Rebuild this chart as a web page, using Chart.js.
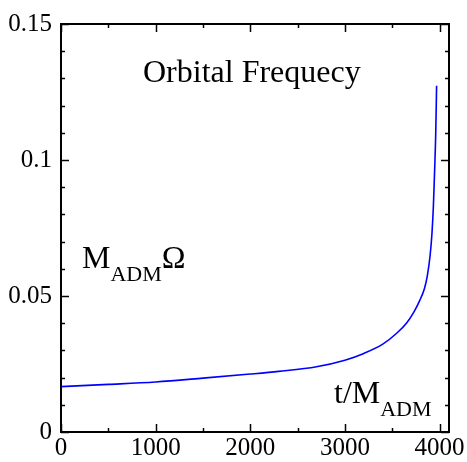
<!DOCTYPE html>
<html>
<head>
<meta charset="utf-8">
<script src="https://cdn.jsdelivr.net/npm/chart.js@4/dist/chart.umd.min.js"></script>
<style>
  html, body { margin: 0; padding: 0; background: #fff; }
  #wrap { width: 467px; height: 462px; }
</style>
</head>
<body>
<div id="wrap"><canvas id="chart" width="467" height="462"></canvas></div>
<script>
// time in units of M_ADM
const times = [0, 500, 1000, 1500, 2000, 2300, 2700, 3000, 3200, 3400, 3550, 3650, 3730, 3790, 3840, 3870, 3900, 3920, 3935, 3948, 3960, 3969];
// orbital frequency M_ADM * Omega
const omega = [0.0167, 0.0175, 0.0184, 0.0198, 0.0213, 0.0223, 0.0240, 0.0264, 0.0289, 0.0323, 0.0364, 0.0400, 0.0442, 0.0483, 0.0527, 0.0572, 0.0648, 0.0730, 0.0830, 0.0960, 0.1100, 0.1273];

const xTicks = [0, 1000, 2000, 3000, 4000];
const yTicks = [0, 0.05, 0.1, 0.15];
const xMinor = [500, 1500, 2500, 3500];
const yMinor = [0.01, 0.02, 0.03, 0.04, 0.06, 0.07, 0.08, 0.09, 0.11, 0.12, 0.13, 0.14];

const serif = "'Liberation Serif', 'Times New Roman', serif";

// inward tick marks on all four sides, frame and text labels
const frameTicks = {
  id: "frameTicks",
  afterDraw(chart) {
    const { ctx, chartArea: a, scales } = chart;
    const xs = scales.x, ys = scales.y;
    ctx.save();
    ctx.strokeStyle = "#000";
    ctx.lineWidth = 1.5;
    const tick = (vals, len, isX) => {
      vals.forEach(v => {
        ctx.beginPath();
        if (isX) {
          const px = Math.round(xs.getPixelForValue(v)) + 0.5;
          ctx.moveTo(px, a.bottom); ctx.lineTo(px, a.bottom - len);
          ctx.moveTo(px, a.top); ctx.lineTo(px, a.top + len);
        } else {
          const py = Math.round(ys.getPixelForValue(v)) + 0.5;
          ctx.moveTo(a.left, py); ctx.lineTo(a.left + len, py);
          ctx.moveTo(a.right, py); ctx.lineTo(a.right - len, py);
        }
        ctx.stroke();
      });
    };
    tick(xTicks, 8, true);
    tick(xMinor, 4, true);
    tick(yTicks, 8, false);
    tick(yMinor, 4, false);

    // frame
    ctx.lineWidth = 2;
    ctx.strokeRect(a.left, a.top, a.right - a.left, a.bottom - a.top);

    // labels
    ctx.fillStyle = "#000";
    ctx.textBaseline = "alphabetic";
    ctx.textAlign = "left";
    ctx.font = "32px " + serif;
    ctx.fillText("Orbital Frequecy", 143, 82);

    ctx.font = "32px " + serif;
    ctx.fillText("M", 82, 268);
    let w = ctx.measureText("M").width;
    ctx.font = "22px " + serif;
    ctx.fillText("ADM", 82 + w, 281);
    let w2 = ctx.measureText("ADM").width;
    ctx.font = "32px " + serif;
    ctx.fillText("\u03A9", 82 + w + w2, 268);

    ctx.font = "32px " + serif;
    ctx.fillText("t/M", 334, 403);
    w = ctx.measureText("t/M").width;
    ctx.font = "22px " + serif;
    ctx.fillText("ADM", 334 + w, 416);
    ctx.restore();
  }
};

new Chart(document.getElementById("chart"), {
  type: "line",
  data: {
    datasets: [{
      data: times.map((t, i) => ({ x: t, y: omega[i] })),
      borderColor: "#0000ff",
      borderWidth: 1.6,
      pointRadius: 0,
      fill: false,
      cubicInterpolationMode: "monotone"
    }]
  },
  options: {
    responsive: false,
    animation: false,
    layout: { padding: { top: 16, right: 18, left: 0, bottom: 0 } },
    plugins: { legend: { display: false }, tooltip: { enabled: false } },
    scales: {
      x: {
        type: "linear",
        min: 0,
        max: 4100,
        afterBuildTicks(s) { s.ticks = xTicks.map(v => ({ value: v })); },
        afterFit(s) { s.height = 30; },
        grid: { display: false, drawTicks: false },
        border: { display: false },
        ticks: {
          color: "#000",
          font: { family: serif, size: 25 },
          padding: 1,
          maxRotation: 0,
          callback: v => String(v)
        }
      },
      y: {
        min: 0,
        max: 0.15,
        afterBuildTicks(s) { s.ticks = yTicks.map(v => ({ value: v })); },
        afterFit(s) { s.width = 61; },
        grid: { display: false, drawTicks: false },
        border: { display: false },
        ticks: {
          color: "#000",
          font: { family: serif, size: 25 },
          padding: 9,
          callback: v => String(Math.round(v * 100) / 100)
        }
      }
    }
  },
  plugins: [frameTicks]
});
</script>
</body>
</html>
